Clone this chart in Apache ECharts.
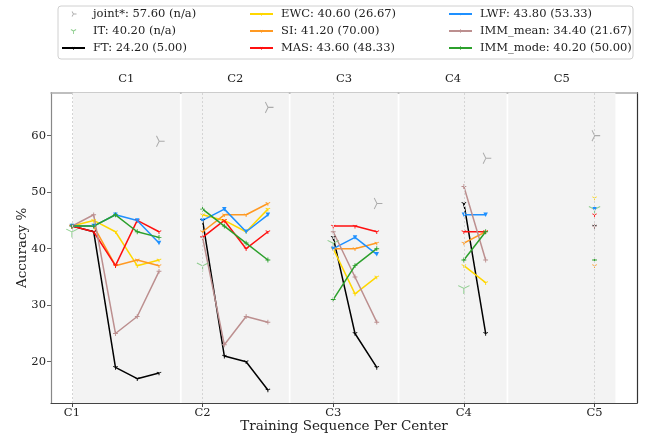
<!DOCTYPE html>
<html lang="en">
<head>
    <meta charset="UTF-8">
    <title>Accuracy per center</title>
    <script src="https://cdn.jsdelivr.net/npm/echarts@6.0.0/dist/echarts.min.js"></script>
</head>
<body style="margin:0;background:#fff;">
    <div id="main" style="width: 645px;height:438px;"></div>
    <script type="text/javascript">
        // centers and the values (one inner list per center)
        const centers = ['C1', 'C2', 'C3', 'C4', 'C5'];
        const jointVals = [59, 65, 48, 56, 60];
        const itVals = [43, 37, 41, 33, 47];
        const ftVals = [[44, 43, 19, 17, 18], [45, 21, 20, 15], [42, 25, 19], [48, 25], [44]];
        const ewcVals = [[44, 45, 43, 37, 38], [46, 45, 43, 47], [40, 32, 35], [37, 34], [49]];
        const siVals = [[44, 44, 37, 38, 37], [43, 46, 46, 48], [40, 40, 41], [41, 43], [37]];
        const masVals = [[44, 43, 37, 45, 43], [42, 45, 40, 43], [44, 44, 43], [43, 43], [46]];
        const lwfVals = [[44, 44, 46, 45, 41], [45, 47, 43, 46], [40, 42, 39], [46, 46], [47]];
        const immMeanVals = [[44, 46, 25, 28, 36], [42, 23, 28, 27], [43, 35, 27], [51, 38], [44]];
        const immModeVals = [[44, 44, 46, 43, 42], [47, 44, 41, 38], [31, 37, 40], [38, 43], [38]];
        const legendLabels = {
            joint: 'joint*: 57.60 (n/a)', it: 'IT: 40.20 (n/a)', ft: 'FT: 24.20 (5.00)',
            ewc: 'EWC: 40.60 (26.67)', si: 'SI: 41.20 (70.00)', mas: 'MAS: 43.60 (48.33)',
            lwf: 'LWF: 43.80 (53.33)', immMean: 'IMM_mean: 34.40 (21.67)', immMode: 'IMM_mode: 40.20 (50.00)'
        };

        const font = 'DejaVu Serif';

        const TRI_DOWN = [90, 210, 330], TRI_RIGHT = [0, 120, 240], PLUS = [0, 90, 180, 270];

        // thin arms drawn as filled quads, centred on (cx, cy)
        function arms(angles, L, t, cx, cy) {
            let d = '';
            const pts = [];
            angles.forEach(a => {
                const r = a * Math.PI / 180, dx = Math.cos(r), dy = Math.sin(r);
                const nx = -dy * t / 2, ny = dx * t / 2;
                const q = [[nx, ny], [L * dx + nx, L * dy + ny], [L * dx - nx, L * dy - ny], [-nx, -ny]]
                    .map(p => [p[0] + cx, p[1] + cy]);
                d += 'M' + q.map(p => p[0].toFixed(3) + ' ' + p[1].toFixed(3)).join(' L') + ' Z ';
                pts.push(...q);
            });
            return { d: d, pts: pts };
        }
        // symbol for the plot: bbox-fitted, offset so the joint sits on the point
        function armSymbol(angles, L, t) {
            const a = arms(angles, L, t, 50, 50);
            const xs = a.pts.map(p => p[0] - 50), ys = a.pts.map(p => p[1] - 50);
            const x0 = Math.min(...xs), x1 = Math.max(...xs), y0 = Math.min(...ys), y1 = Math.max(...ys);
            return { symbol: 'path://' + a.d, symbolSize: [x1 - x0, y1 - y0], symbolOffset: [(x0 + x1) / 2, (y0 + y1) / 2], symbolKeepAspect: true };
        }
        // small icon for the legend: a padded box so the marker stays small
        function padded(d, w, h) {
            return 'path://M0 0 L0.01 0 L0 0.01 Z M' + w + ' ' + h + ' L' + (w - 0.01) + ' ' + h + ' L' + w + ' ' + (h - 0.01) + ' Z ' + d;
        }
        const legendArms = (angles, L, t, w, h) => padded(arms(angles, L, t, w / 2, h / 2).d, w, h);

        // each center sits in a 5-unit panel, its own tick at 6*i
        function lineData(vals, itemSym) {
            const out = [];
            vals.forEach((arr, i) => {
                arr.forEach((v, k) => out.push(Object.assign({ value: [6 * i + k, v] }, itemSym)));
                out.push({ value: [5 * i + 4.5, '-'] });
            });
            return out;
        }

        function lineSeries(name, vals, color, itemSym, legendSym) {
            return {
                name: name, type: 'line', data: lineData(vals, itemSym),
                symbol: legendSym, symbolSize: 4,
                lineStyle: { color: color, width: 1.5 },
                itemStyle: { color: color },
                showSymbol: true, showAllSymbol: true, connectNulls: false,
                animation: false, z: 3
            };
        }

        const tickVals = centers.map((c, i) => 6 * i);
        const panelMid = centers.map((c, i) => 5 * i + 2.5);

        const legendText = { fontSize: 11.5, fontFamily: font, color: '#222', lineHeight: 12, padding: [0, 0, 0, 3] };
        function legend(left, items) {
            return {
                orient: 'vertical', left: left, top: 8, padding: 0, itemWidth: 23, itemHeight: 10, itemGap: 5,
                data: items, textStyle: legendText, selectedMode: false
            };
        }

        const smallTri = legendArms(TRI_DOWN, 3.6, 1.6, 16, 16);
        const smallPlus = legendArms(PLUS, 3.4, 1.6, 16, 16);
        const smallV = padded('M5 6 L11 6 L8 11 Z', 16, 16);

        let options = {
            animation: false,
            backgroundColor: '#fff',
            grid: { left: 51, right: 8, top: 92.7, bottom: 35 },
            graphic: [{
                type: 'rect', left: 57.5, top: 5.5, silent: true,
                shape: { width: 575, height: 53, r: 3 },
                style: { fill: '#fff', stroke: '#d0d0d0', lineWidth: 1 }, z: -1
            }],
            legend: [
                legend(61, [
                    { name: legendLabels.joint, icon: legendArms(TRI_RIGHT, 3, 0.9, 23, 10) },
                    { name: legendLabels.it, icon: legendArms(TRI_DOWN, 3, 0.9, 23, 10) },
                    legendLabels.ft]),
                legend(249, [legendLabels.ewc, legendLabels.si, legendLabels.mas]),
                legend(448, [legendLabels.lwf, legendLabels.immMean, legendLabels.immMode])
            ],
            xAxis: [{
                type: 'value', position: 'bottom', min: -0.96, max: 25.95,
                axisLine: { onZero: false, lineStyle: { color: '#444', width: 1.2 } },
                axisTick: { customValues: tickVals, length: 4, lineStyle: { color: '#444' } },
                axisLabel: {
                    customValues: tickVals, formatter: v => centers[Math.round(v / 6)],
                    fontFamily: font, fontSize: 11.5, color: '#222', margin: 4
                },
                splitLine: { show: false },
                name: 'Training Sequence Per Center', nameLocation: 'middle', nameGap: 16, nameMoveOverlap: false,
                nameTextStyle: { fontFamily: font, fontSize: 13.5, color: '#222' }
            }, {
                type: 'value', position: 'top', min: -0.96, max: 25.95,
                axisLine: { show: true, onZero: false, lineStyle: { color: '#aaa', width: 1.5 } },
                axisTick: { show: false },
                axisLabel: {
                    customValues: panelMid, formatter: v => centers[Math.round((v - 2.5) / 5)],
                    fontFamily: font, fontSize: 11.5, color: '#222', margin: 8
                },
                splitLine: { show: false }
            }],
            yAxis: [{
                type: 'value', position: 'left', min: 12.7, max: 67.6,
                axisLine: { show: true, onZero: false, lineStyle: { color: '#888', width: 1.2 } },
                axisTick: { show: true, customValues: [20, 30, 40, 50, 60], length: 4, lineStyle: { color: '#666' } },
                axisLabel: { customValues: [20, 30, 40, 50, 60], fontFamily: font, fontSize: 11.5, color: '#222', margin: 5 },
                splitLine: { show: false },
                name: 'Accuracy %', nameLocation: 'middle', nameGap: 22, nameMoveOverlap: false,
                nameTextStyle: { fontFamily: font, fontSize: 13.5, color: '#222' }
            }, {
                type: 'value', position: 'right', min: 12.7, max: 67.6,
                axisLine: { show: true, onZero: false, lineStyle: { color: '#333', width: 1.2 } },
                axisTick: { show: false }, axisLabel: { show: false }, splitLine: { show: false }
            }],
            series: [
                {
                    // background panels and the dotted tick lines
                    name: 'panels', type: 'line', data: [], silent: true, z: 1,
                    markArea: {
                        silent: true,
                        itemStyle: { color: '#f3f3f3' },
                        data: centers.map((c, i) => [{ xAxis: 5 * i + 0.04 }, { xAxis: 5 * i + 4.96 }])
                    },
                    markLine: {
                        silent: true, symbol: 'none', label: { show: false },
                        lineStyle: { color: '#d4d4d4', type: [2, 2], width: 1 },
                        data: tickVals.map(v => ({ xAxis: v }))
                    }
                },
                Object.assign({
                    name: legendLabels.joint, type: 'scatter',
                    data: jointVals.map((v, i) => [5 * i + 4, v]),
                    itemStyle: { color: '#999' }, z: 3
                }, armSymbol(TRI_RIGHT, 6.3, 1.1)),
                Object.assign({
                    name: legendLabels.it, type: 'scatter',
                    data: itVals.map((v, i) => [6 * i, v]),
                    itemStyle: { color: '#74c374' }, z: 3
                }, armSymbol(TRI_DOWN, 6.5, 1.1)),
                lineSeries(legendLabels.ft, ftVals, '#000000', armSymbol(TRI_DOWN, 2.6, 0.9), smallTri),
                lineSeries(legendLabels.ewc, ewcVals, '#ffd700', armSymbol(TRI_DOWN, 2.6, 0.9), smallTri),
                lineSeries(legendLabels.si, siVals, '#ff9922', armSymbol(TRI_DOWN, 2.6, 0.9), smallTri),
                lineSeries(legendLabels.mas, masVals, '#ff1010', armSymbol(TRI_DOWN, 2.6, 0.9), smallTri),
                lineSeries(legendLabels.lwf, lwfVals, '#1e90ff', { symbol: 'triangle', symbolRotate: 180, symbolSize: 4.5 }, smallV),
                lineSeries(legendLabels.immMean, immMeanVals, '#bc8f8f', armSymbol(PLUS, 2.4, 0.9), smallPlus),
                lineSeries(legendLabels.immMode, immModeVals, '#2ca02c', armSymbol(PLUS, 2.4, 0.9), smallPlus)
            ]
        };

        let myChart = echarts.init(document.getElementById('main'));
        myChart.setOption(options);
    </script>
</body>
</html>
